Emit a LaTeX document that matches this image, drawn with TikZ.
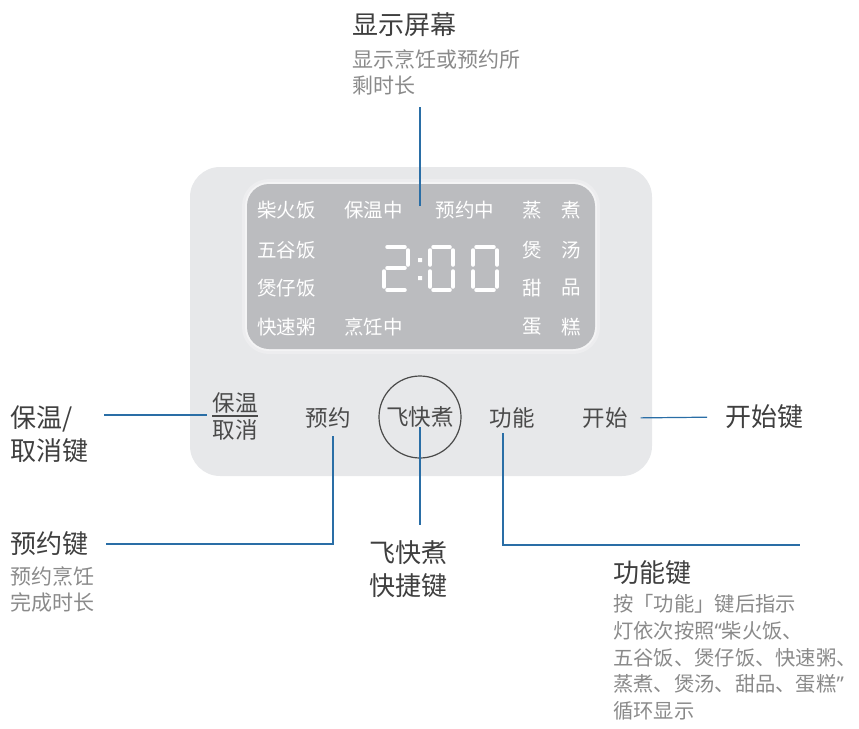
\documentclass[tikz,border=0pt]{standalone}
\usepackage{fontspec}
\setmainfont{Noto Sans CJK SC}
\newfontfamily\quotefont{Noto Sans}
\usetikzlibrary{positioning}
\definecolor{panelgray}{HTML}{E7E8EA}
\definecolor{screengray}{HTML}{BBBCBF}
\definecolor{leadblue}{HTML}{2A6EA6}
\definecolor{labeldark}{HTML}{3F3F3F}
\definecolor{descgray}{HTML}{8A8A8A}
\definecolor{keydark}{HTML}{4A4A4A}
\tikzset{title/.style = {font=\fontsize{26}{33}\selectfont, text=labeldark, inner sep=0pt, align=left}}
\tikzset{desc/.style = {font=\fontsize{21}{26.7}\selectfont, text=descgray, inner sep=0pt, align=left}}
\tikzset{key/.style = {font=\fontsize{22.5}{27}\selectfont, text=keydark, inner sep=0pt}}
\tikzset{lcd/.style = {font=\fontsize{19.5}{24}\selectfont, text=white, inner sep=0pt}}
\tikzset{lead/.style = {draw=leadblue, line width=1.2pt}}
\tikzset{seg/.style = {draw=white, line width=3.5pt, line cap=round}}

\begin{document}
\begin{tikzpicture}[x=1pt, y=-1pt]
  \useasboundingbox (0,0) rectangle (859,728);

  % panel and screen
  \fill[panelgray, rounded corners=30pt] (190,167) rectangle (652,476);
  \fill[white, opacity=0.25, rounded corners=27pt] (242,179) rectangle (600,354);
  \fill[white, opacity=0.4, rounded corners=24pt] (245,182) rectangle (597,351);
  \fill[screengray, rounded corners=22pt] (247,184) rectangle (595,349);

  % screen texts
  \node [lcd] (lcdchai) at (286.5,210) {柴火饭};
  \node [lcd] (lcdwugu) at (286.5,250) {五谷饭};
  \node [lcd] (lcdbaozai) at (286.5,288) {煲仔饭};
  \node [lcd] (lcdkuai) at (286.5,327) {快速粥};
  \node [lcd] (lcdbaowen) at (373.5,210) {保温中};
  \node [lcd] (lcdpeng) at (373.5,327) {烹饪中};
  \node [lcd] (lcdyuyue) at (465,210) {预约中};
  \node [lcd] (lcdzheng) at (532.5,210) {蒸};
  \node [lcd] (lcdzhu) at (571,210) {煮};
  \node [lcd] (lcdbao) at (532.5,250) {煲};
  \node [lcd] (lcdtang) at (571,250) {汤};
  \node [lcd] (lcdtian) at (532.5,288) {甜};
  \node [lcd] (lcdpin) at (571,288) {品};
  \node [lcd] (lcddan) at (532.5,327) {蛋};
  \node [lcd] (lcdgao) at (571,327) {糕};

  % 2:00
  \draw[seg] (387,247) -- (405,247) (408,250) -- (408,265) (387,268) -- (405,268)
    (384,271) -- (384,287) (387,290) -- (405,290);
  \fill[white] (418,258) rectangle (422,262) (418,276) rectangle (422,280);
  \foreach \L/\R in {430/453, 473/497}
    \draw[seg] (\L+3,247) -- (\R-3,247) (\L+3,290) -- (\R-3,290)
      (\L,250) -- (\L,265) (\L,271) -- (\L,287)
      (\R,250) -- (\R,265) (\R,271) -- (\R,287);

  % keys
  \node [key] (kbaowen) at (235,403) {保温};
  \node [key] (kquxiao) at (235,430) {取消};
  \draw[keydark, line width=1.2pt] ([yshift=-2.5pt]kbaowen.south west) -- ([yshift=-2.5pt]kbaowen.south east);
  \node [key] (kyuyue) at (328,418) {预约};
  \node [key, draw=keydark, circle, line width=1.2pt, minimum size=82pt] (kfei) at (420,417) {飞快煮};
  \node [key] (kgongneng) at (512,418) {功能};
  \node [key] (kkaishi) at (605,418) {开始};

  % labels
  \node [title, anchor=west] (tscreen) at (352,25) {显示屏幕};
  \node [desc, below right=12pt and 0pt of tscreen.south west] (dscreen) {显示烹饪或预约所\\剩时长};
  \node [title, anchor=west] (twarm) at (10,434.5) {保温/\\取消键};
  \node [title, anchor=west] (tyuyue) at (10,544) {预约键};
  \node [desc, below right=10pt and 0pt of tyuyue.south west] (dyuyue) {预约烹饪\\完成时长};
  \node [title, align=center] (tfei) at (408,569) {飞快煮\\快捷键};
  \node [title, anchor=west] (tkaishi) at (725,417) {开始键};
  \node [title, anchor=west] (tgong) at (613,573) {功能键};
  \node [desc, font=\fontsize{20.3}{26.7}\selectfont, below right=9pt and 0pt of tgong.south west] (dgong)
    {按「功能」键后指示\\灯依次按照{\quotefont “}柴火饭、\\五谷饭、煲仔饭、快速粥、\\蒸煮、煲汤、甜品、蛋糕{\quotefont ”}\\循环显示};

  % leaders
  \coordinate (screenend) at (420,206);
  \coordinate (warmstart) at (104,415);
  \coordinate (yuyuetop) at (333,436);
  \coordinate (gongtop) at (503,433);
  \coordinate (gongend) at (800,545);
  \draw[lead] (screenend) -- ++(0,-99);
  \draw[lead, shorten >=5pt] (warmstart) -- (kbaowen.west |- warmstart);
  \draw[lead, shorten >=18pt] (yuyuetop) |- (tyuyue.east);
  \draw[lead] ([yshift=-10pt]kfei.center) -- ++(0,98);
  \draw[lead] (gongtop) |- (gongend);
  \draw[lead, shorten <=13pt, shorten >=18pt] (kkaishi.east) -- (tkaishi.west);
\end{tikzpicture}
\end{document}
